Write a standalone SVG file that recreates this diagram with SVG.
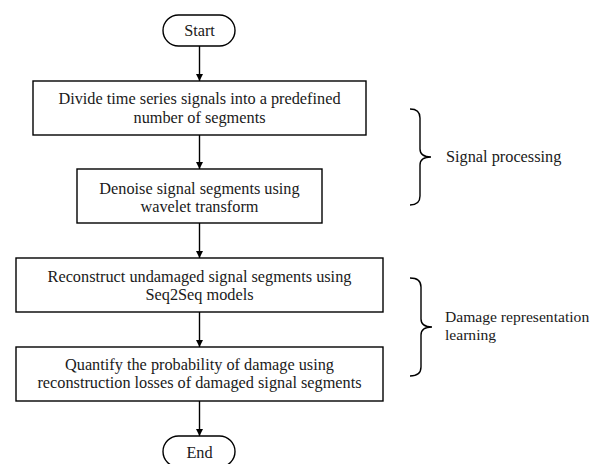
<svg xmlns="http://www.w3.org/2000/svg" width="590" height="464" viewBox="0 0 590 464">
<defs>
<marker id="ah" viewBox="0 0 10 10" refX="10" refY="5" markerWidth="7" markerHeight="7" markerUnits="userSpaceOnUse" orient="auto">
<path d="M0,0 L10,5 L0,10 Z" fill="#000"/>
</marker>
</defs>
<style>
.box{fill:#fff;stroke:#000;stroke-width:1.4}
.t{font-family:"Liberation Serif","Times New Roman",Times,serif;font-size:16.3px;fill:#1a1a1a}
.c{text-anchor:middle}
.ln{stroke:#000;stroke-width:1.4;fill:none}
.br{stroke:#000;stroke-width:1.4;fill:none}
</style>
<rect width="590" height="464" fill="#fff"/>
<g id="connectors">
<line class="ln" x1="199.5" y1="46" x2="199.5" y2="81" marker-end="url(#ah)"/>
<line class="ln" x1="199.5" y1="135" x2="199.5" y2="169" marker-end="url(#ah)"/>
<line class="ln" x1="199.5" y1="223" x2="199.5" y2="258" marker-end="url(#ah)"/>
<line class="ln" x1="199.5" y1="312" x2="199.5" y2="347" marker-end="url(#ah)"/>
<line class="ln" x1="199.5" y1="401" x2="199.5" y2="436" marker-end="url(#ah)"/>
</g>
<g id="start">
<rect class="box" x="163" y="15" width="72" height="31" rx="15.5"/>
<text class="t c" x="199.5" y="36">Start</text>
</g>
<g id="step1">
<rect class="box" x="33" y="81" width="333" height="54"/>
<text class="t c" x="199.5" y="104">Divide time series signals into a predefined</text>
<text class="t c" x="199.5" y="123">number of segments</text>
</g>
<g id="step2">
<rect class="box" x="77" y="169" width="245" height="54"/>
<text class="t c" x="199.5" y="194">Denoise signal segments using</text>
<text class="t c" x="199.5" y="212">wavelet transform</text>
</g>
<g id="step3">
<rect class="box" x="16" y="258" width="367" height="54"/>
<text class="t c" x="199.5" y="282">Reconstruct undamaged signal segments using</text>
<text class="t c" x="199.5" y="300">Seq2Seq models</text>
</g>
<g id="step4">
<rect class="box" x="16" y="347" width="367" height="54"/>
<text class="t c" x="199.5" y="370">Quantify the probability of damage using</text>
<text class="t c" x="199.5" y="388">reconstruction losses of damaged signal segments</text>
</g>
<g id="end">
<rect class="box" x="163" y="436" width="72" height="31" rx="15.5"/>
<text class="t c" x="199.5" y="458">End</text>
</g>
<g id="signal-processing">
<path class="br" d="M410,109 Q420,109 420,118 L420,149 Q420,157 431,157 Q420,157 420,165 L420,196 Q420,205 410,205"/>
<text class="t" x="446" y="162">Signal processing</text>
</g>
<g id="damage-representation">
<path class="br" d="M410,278 Q421,278 421,287 L421,319 Q421,327 432,327 Q421,327 421,335 L421,367 Q421,376 410,376"/>
<text class="t" x="445" y="322" style="font-size:15.6px">Damage representation</text>
<text class="t" x="445" y="340" style="font-size:15.6px">learning</text>
</g>
</svg>
